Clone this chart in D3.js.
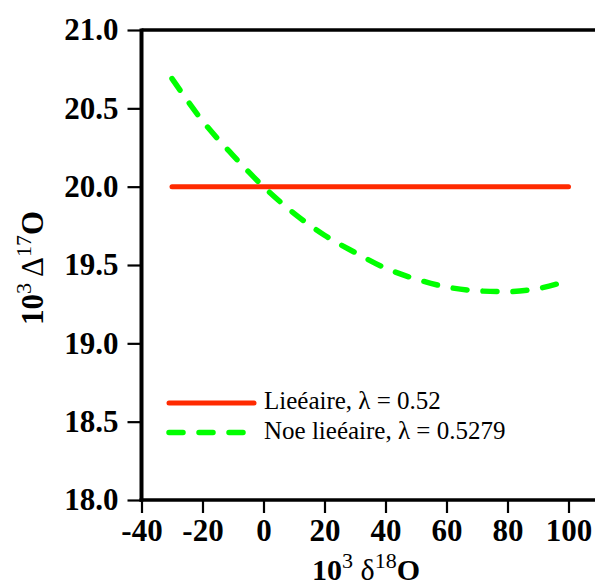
<!DOCTYPE html>
<html>
<head>
<meta charset="utf-8">
<script src="https://cdn.jsdelivr.net/npm/d3@7"></script>
<style>
  html, body { margin: 0; padding: 0; background: #fff; }
  svg { display: block; }
  text { font-family: "Liberation Serif", "Times New Roman", serif; }
</style>
</head>
<body>
<script>
// ---- data ----
const xTicks = [-40, -20, 0, 20, 40, 60, 80, 100];
const yTicks = [18.0, 18.5, 19.0, 19.5, 20.0, 20.5, 21.0];
const linearX = [-30, 100];
const linearY = [20.0, 20.0];
const nonLinX = [-30, -20, -10, 0, 10, 20, 30, 40, 50, 60, 70, 80, 90, 100];
const nonLinY = [20.69, 20.42, 20.20, 20.00, 19.83, 19.69, 19.58, 19.48, 19.41, 19.36, 19.335, 19.33, 19.35, 19.40];
const seriesNames = ["Lieéaire, λ = 0.52", "Noe lieéaire, λ = 0.5279"];
const seriesColors = ["#ff2a00", "#00ff00"];

const W = 595, H = 587;
const svg = d3.select("body").append("svg").attr("width", W).attr("height", H);

const x = d3.scaleLinear().domain([-40, 110]).range([141.5, 599]);
const y = d3.scaleLinear().domain([18, 21]).range([500, 30]);

// frame: top line
svg.append("line").attr("x1", x(-40)).attr("x2", W).attr("y1", y(21)).attr("y2", y(21))
  .attr("stroke", "#000").attr("stroke-width", 3.5);

// Y axis
const yAxis = svg.append("g").attr("transform", `translate(${x(-40)},0)`)
  .call(d3.axisLeft(y).tickValues(yTicks).tickFormat(d3.format(".1f")).tickSize(14).tickPadding(9));
yAxis.select(".domain").attr("stroke-width", 4).attr("d", `M0,${y(18)+1.5}V${y(21)-1.5}`);
yAxis.selectAll(".tick line").attr("stroke-width", 2.2);
yAxis.selectAll(".tick text").attr("font-weight", "bold")
  .attr("font-size", 31).attr("fill", "#000");

// X axis
const xAxis = svg.append("g").attr("transform", `translate(0,${y(18)})`)
  .call(d3.axisBottom(x).tickValues(xTicks).tickFormat(d => String(d)).tickSize(13).tickPadding(6));
xAxis.select(".domain").attr("stroke-width", 3.5).attr("d", `M${x(-40)-2},0H${W}`);
xAxis.selectAll(".tick line").attr("stroke-width", 2.2);
xAxis.selectAll(".tick text").attr("font-weight", "bold")
  .attr("font-size", 31).attr("fill", "#000").attr("dy", "0.71em");
svg.selectAll("g").attr("font-family", null);

// lines
const lin = linearX.map((d, i) => [d, linearY[i]]);
const nl = nonLinX.map((d, i) => [d, nonLinY[i]]);
const line = d3.line().x(d => x(d[0])).y(d => y(d[1])).curve(d3.curveMonotoneX);

svg.append("path").attr("d", line(lin)).attr("fill", "none")
  .attr("stroke", seriesColors[0]).attr("stroke-width", 5).attr("stroke-linecap", "round");
svg.append("path").attr("d", line(nl)).attr("fill", "none")
  .attr("stroke", seriesColors[1]).attr("stroke-width", 5.5).attr("stroke-linecap", "round")
  .attr("stroke-dasharray", "14,16");

// legend
const legY = [403, 432.5];
seriesNames.forEach((name, i) => {
  svg.append("line").attr("x1", 169).attr("x2", 254).attr("y1", legY[i]).attr("y2", legY[i])
    .attr("stroke", seriesColors[i]).attr("stroke-width", i ? 5.5 : 5).attr("stroke-linecap", "round")
    .attr("stroke-dasharray", i ? "14,16" : null);
  svg.append("text").attr("x", 264).attr("y", legY[i] + 6)
    .attr("font-size", 25).attr("fill", "#000").text(name);
});

// axis titles
const xt = svg.append("text").attr("x", 366).attr("y", 580).attr("text-anchor", "middle")
  .attr("font-size", 30).attr("fill", "#000");
xt.append("tspan").attr("font-weight", "bold").text("10");
xt.append("tspan").attr("dy", -12).attr("font-size", 22).text("3");
xt.append("tspan").attr("dy", 12).text(" δ");
xt.append("tspan").attr("dy", -12).attr("font-size", 22).text("18");
xt.append("tspan").attr("dy", 12).attr("font-weight", "bold").text("O");

const yt = svg.append("text").attr("transform", `translate(43,268) rotate(-90)`).attr("text-anchor", "middle")
  .attr("font-size", 31).attr("fill", "#000");
yt.append("tspan").attr("font-weight", "bold").text("10");
yt.append("tspan").attr("dy", -12).attr("font-size", 22).text("3");
yt.append("tspan").attr("dy", 12).text(" Δ");
yt.append("tspan").attr("dy", -12).attr("font-size", 22).text("17");
yt.append("tspan").attr("dy", 12).attr("font-weight", "bold").text("O");
</script>
</body>
</html>
